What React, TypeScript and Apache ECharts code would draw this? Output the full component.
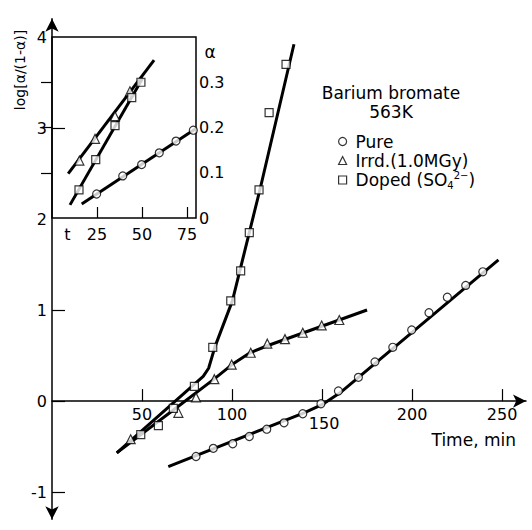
import React, { useEffect, useRef } from 'react';
import * as echarts from 'echarts';

const FONT = 'DejaVu Sans';

// Main plot: log[α/(1-α)] vs time (min)
const pureT = [80, 89.6, 100.4, 109.6, 119.3, 128.9, 139.3, 149.4, 159.1, 170.2, 179.4, 189.3, 199.8, 209.4, 219.6, 229.8, 239.3];
const pureV = [-0.61, -0.52, -0.47, -0.39, -0.31, -0.24, -0.14, -0.03, 0.11, 0.26, 0.43, 0.59, 0.78, 0.97, 1.14, 1.27, 1.42];
const pureFitT = [64.6, 140, 150, 160, 248];
const pureFitV = [-0.72, -0.13, -0.04, 0.09, 1.55];

const irrT = [43.7, 70.2, 80, 90.2, 99.8, 110.4, 119.6, 129.4, 139.3, 149.8, 159.6];
const irrV = [-0.42, -0.13, 0.04, 0.24, 0.4, 0.53, 0.63, 0.68, 0.75, 0.83, 0.89];
const irrFitT = [36, 70, 90, 100, 110, 120, 175];
const irrFitV = [-0.57, -0.06, 0.24, 0.4, 0.53, 0.61, 1.0];

const dopT = [49.3, 59.1, 67.4, 79.1, 89.3, 99.3, 104.8, 109.6, 115, 120.6, 130];
const dopV = [-0.37, -0.27, -0.08, 0.16, 0.59, 1.1, 1.43, 1.85, 2.32, 3.17, 3.7];
const dopFitT = [36, 84, 87, 90.6, 100.2, 115.6, 134.4];
const dopFitV = [-0.57, 0.27, 0.36, 0.6, 1.1, 2.33, 3.92];

// Inset: α vs t
const inPureT = [24.8, 39.3, 49.8, 59.6, 68.9, 78.5];
const inPureA = [0.053, 0.093, 0.118, 0.144, 0.17, 0.194];
const inPureFitT = [16.5, 80];
const inPureFitA = [0.031, 0.198];

const inIrrT = [15.2, 23.9, 35, 43.3];
const inIrrA = [0.127, 0.175, 0.225, 0.28];
const inIrrFitT = [9, 56.7];
const inIrrFitA = [0.098, 0.349];

const inDopT = [15, 24.3, 35, 44.3, 49.4];
const inDopA = [0.062, 0.129, 0.204, 0.266, 0.3];
const inDopFitT = [10, 50.5];
const inDopFitA = [0.029, 0.31];

// Ticks / labels
const mainXTicks = [50, 100, 150, 200, 250];
const mainYTicks = [-1, 0, 1, 3];
const mainYLabels = [-1, 0, 1, 2, 3, 4];
const insetXTicks = [25, 50, 75];
const insetXLabels = [8.5, 25, 50, 75];
const insetYTicks = [0.1, 0.2, 0.3];
const insetYLabels = [0, 0.1, 0.2, 0.3];

const legendNames = ['Pure', 'Irrd', 'Doped'];
const legendTexts: Record<string, string> = {
  Pure: 'Pure',
  Irrd: 'Irrd.(1.0MGy)',
  Doped: 'Doped (SO{sub|4}{sup|2−})',
};

const zip = (a: number[], b: number[]) => a.map((x, i) => [x, b[i]]);

const black = '#000';
const markerStyle = { color: '#fff', borderColor: black, borderWidth: 1.2 };
const fitLine = { color: black, width: 3 };

function lineSeries(name: string, t: number[], v: number[], xi: number, yi: number) {
  return {
    name,
    type: 'line',
    xAxisIndex: xi,
    yAxisIndex: yi,
    data: zip(t, v),
    symbol: 'none',
    showSymbol: false,
    lineStyle: fitLine,
    silent: true,
    z: 2,
  };
}

function scatterSeries(name: string, symbol: string, size: number, t: number[], v: number[], xi: number, yi: number) {
  return {
    name,
    type: 'scatter',
    xAxisIndex: xi,
    yAxisIndex: yi,
    symbol,
    symbolSize: size,
    data: zip(t, v),
    itemStyle: markerStyle,
    silent: true,
    z: 3,
  };
}

const labelBase = { color: black, fontFamily: FONT, fontSize: 16 };
const X_MAX = 263.3;

const option: any = {
  animation: false,
  backgroundColor: '#fff',
  textStyle: { fontFamily: FONT, color: black },
  grid: [
    // main data area
    { left: 52, top: 18.8, width: 474, height: 500.5, show: false, containLabel: false, outerBoundsMode: 'none' },
    // inset
    {
      left: 52, top: 37, width: 144, height: 181, show: true,
      borderColor: black, borderWidth: 1.5, backgroundColor: 'rgba(0,0,0,0)', containLabel: false, outerBoundsMode: 'none',
    },
    // carrier of the time axis, whose bottom edge sits at log = 0
    { left: 52, top: 300, width: 474, height: 101.1, show: false, containLabel: false, outerBoundsMode: 'none' },
  ],
  xAxis: [
    { gridIndex: 0, type: 'value', min: 0, max: X_MAX, show: false },
    {
      gridIndex: 1, type: 'value', min: 0, max: 80,
      axisLine: { show: false },
      axisTick: { show: true, inside: true, length: 11, customValues: insetXTicks, lineStyle: { color: black, width: 1.2 } },
      axisLabel: {
        ...labelBase, margin: 8, customValues: insetXLabels,
        formatter: (v: number) => (v < 10 ? 't' : String(v)),
      },
      splitLine: { show: false },
    },
    {
      gridIndex: 2, type: 'value', min: 0, max: X_MAX, position: 'bottom',
      axisLine: { show: true, onZero: false, symbol: ['none', 'arrow'], symbolSize: [10, 13], lineStyle: { color: black, width: 1.5 } },
      axisTick: { show: true, inside: true, length: 12, customValues: mainXTicks, lineStyle: { color: black, width: 1.2 } },
      axisLabel: {
        ...labelBase, margin: 5, customValues: mainXTicks,
        formatter: (v: number) => (v === 150 ? '{low|150}' : String(v)),
        rich: { low: { ...labelBase, padding: [9, 0, 0, 4] } },
      },
      splitLine: { show: false },
    },
  ],
  yAxis: [
    {
      gridIndex: 0, type: 'value', min: -1.3, max: 4.2,
      axisLine: { show: true, onZero: false, symbol: ['arrow', 'arrow'], symbolSize: [10, 13], lineStyle: { color: black, width: 1.5 } },
      axisTick: { show: true, inside: true, length: 13, customValues: mainYTicks, lineStyle: { color: black, width: 1.2 } },
      axisLabel: { ...labelBase, margin: 5, customValues: mainYLabels, formatter: (v: number) => String(v) },
      splitLine: { show: false },
    },
    {
      gridIndex: 1, type: 'value', position: 'right', min: 0, max: 0.4,
      axisLine: { show: false },
      axisTick: { show: true, inside: true, length: 11, customValues: insetYTicks, lineStyle: { color: black, width: 1.2 } },
      axisLabel: {
        ...labelBase, margin: 3, customValues: insetYLabels,
        formatter: (v: number) => (v === 0 ? '0' : v.toFixed(1)),
      },
      splitLine: { show: false },
    },
    { gridIndex: 2, type: 'value', min: 0, max: 1, show: false },
  ],
  legend: {
    show: true,
    orient: 'vertical',
    left: 333,
    top: 127,
    itemWidth: 8,
    itemHeight: 8,
    itemGap: 0,
    selectedMode: false,
    data: [
      { name: legendNames[0], icon: 'circle' },
      { name: legendNames[1], icon: 'triangle' },
      { name: legendNames[2], icon: 'rect' },
    ],
    itemStyle: { color: '#fff', borderColor: black, borderWidth: 1.2 },
    formatter: (name: string) => legendTexts[name] || name,
    textStyle: {
      color: black, fontFamily: FONT, fontSize: 17, lineHeight: 19, padding: [0, 0, 0, 4],
      rich: {
        sub: { fontSize: 10, lineHeight: 10, padding: [10, 0, 0, 0], fontFamily: FONT, color: black },
        sup: { fontSize: 10, lineHeight: 10, padding: [0, 0, 10, 0], fontFamily: FONT, color: black },
      },
    },
  },
  graphic: [
    {
      type: 'text', x: 391, y: 83,
      style: { text: 'Barium bromate\n563K', fontSize: 17, fontFamily: FONT, fill: black, align: 'center', lineHeight: 19 },
    },
    {
      type: 'text', x: 516, y: 440,
      style: { text: 'Time, min', fontSize: 17, fontFamily: FONT, fill: black, align: 'right', verticalAlign: 'middle' },
    },
    {
      type: 'text', x: 20, y: 70, rotation: Math.PI / 2,
      style: { text: 'log[α/(1-α)]', fontSize: 14, fontFamily: FONT, fill: black, align: 'center', verticalAlign: 'middle' },
    },
    {
      type: 'text', x: 210, y: 52,
      style: { text: 'α', fontSize: 17, fontFamily: FONT, fill: black, align: 'center', verticalAlign: 'middle' },
    },
  ],
  series: [
    lineSeries('fitPure', pureFitT, pureFitV, 0, 0),
    lineSeries('fitIrrd', irrFitT, irrFitV, 0, 0),
    lineSeries('fitDoped', dopFitT, dopFitV, 0, 0),
    scatterSeries('Pure', 'circle', 8, pureT, pureV, 0, 0),
    scatterSeries('Irrd', 'triangle', 9, irrT, irrV, 0, 0),
    scatterSeries('Doped', 'rect', 8, dopT, dopV, 0, 0),
    lineSeries('inFitPure', inPureFitT, inPureFitA, 1, 1),
    lineSeries('inFitIrrd', inIrrFitT, inIrrFitA, 1, 1),
    lineSeries('inFitDoped', inDopFitT, inDopFitA, 1, 1),
    scatterSeries('inPure', 'circle', 8, inPureT, inPureA, 1, 1),
    scatterSeries('inIrrd', 'triangle', 9, inIrrT, inIrrA, 1, 1),
    scatterSeries('inDoped', 'rect', 8, inDopT, inDopA, 1, 1),
  ],
};

export default function App() {
  const ref = useRef<HTMLDivElement>(null);
  useEffect(() => {
    document.body.style.margin = '0';
    const chart = echarts.init(ref.current as HTMLDivElement, null, { renderer: 'svg' });
    chart.setOption(option);
    return () => {
      chart.dispose();
    };
  }, []);
  return <div ref={ref} style={{ width: 532, height: 530 }} />;
}
